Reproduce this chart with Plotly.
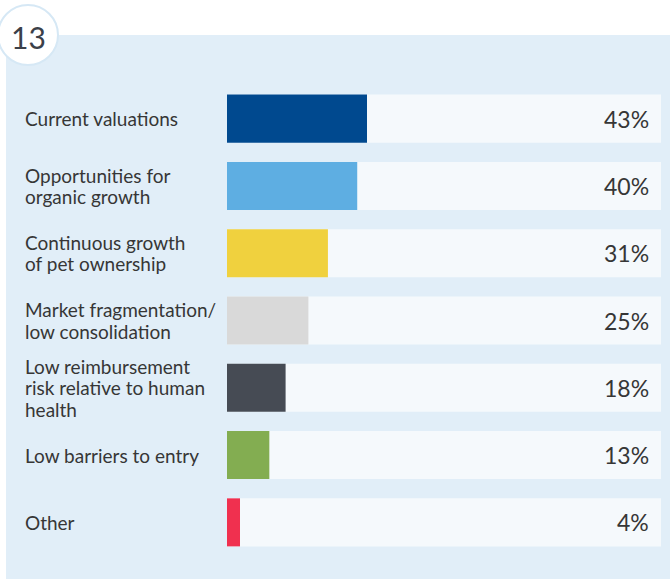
import plotly.graph_objects as go

categories = [
    "Current valuations",
    "Opportunities for<br>organic growth",
    "Continuous growth<br>of pet ownership",
    "Market fragmentation/<br>low consolidation",
    "Low reimbursement<br>risk relative to human<br>health",
    "Low barriers to entry",
    "Other",
]
values = [43, 40, 31, 25, 18, 13, 4]
value_labels = ["43%", "40%", "31%", "25%", "18%", "13%", "4%"]
bar_colors = ["#00498f", "#5eaee2", "#f0d13e", "#d9d9d9", "#464b54", "#83ad51", "#f0304f"]
track_max = 133.3
chart_number = "13"

W, H = 670, 579
ML, MR, MT, MB = 227, 9, 85, 23
PW, PH = W - ML - MR, H - MT - MB
LINE_H = 21.5

def px_x(p):
    return (p - ML) / PW

def px_y(p):
    return (H - MB - p) / PH

fig = go.Figure()
fig.add_trace(go.Bar(
    y=categories, x=[track_max] * len(categories), orientation="h",
    marker=dict(color="#f5f9fc", line=dict(width=0)), hoverinfo="skip", showlegend=False,
))
fig.add_trace(go.Bar(
    y=categories, x=values, orientation="h",
    marker=dict(color=bar_colors, line=dict(width=0)), showlegend=False,
))

annotations = []
for c, lab in zip(categories, value_labels):
    annotations.append(dict(
        x=1, y=c, xref="paper", yref="y", text=lab, showarrow=False,
        xanchor="right", yanchor="middle", xshift=-10,
        font=dict(family="Lato", size=23, color="#363636"),
    ))
    lines = c.split("<br>")
    n = len(lines)
    for i, ln in enumerate(lines):
        annotations.append(dict(
            x=px_x(23), y=c, xref="paper", yref="y", text=ln, showarrow=False,
            xanchor="left", yanchor="middle", align="left",
            yshift=-(i - (n - 1) / 2) * LINE_H,
            font=dict(family="Lato", size=19, color="#363636"),
        ))
annotations.append(dict(
    x=px_x(28), y=px_y(37), xref="paper", yref="paper", text=chart_number, showarrow=False,
    xanchor="center", yanchor="middle",
    font=dict(family="Lato", size=30, color="#3b4049"),
))

shapes = [
    dict(type="rect", xref="paper", yref="paper", layer="below",
         x0=px_x(6), x1=px_x(672), y0=px_y(35), y1=px_y(582),
         fillcolor="#e1eef8", line=dict(width=0)),
    dict(type="circle", xref="paper", yref="paper", layer="above",
         x0=px_x(-2), x1=px_x(58), y0=px_y(65), y1=px_y(5),
         fillcolor="#ffffff", line=dict(color="#d6e8f5", width=2)),
]

fig.update_layout(
    width=W, height=H,
    margin=dict(l=ML, r=MR, t=MT, b=MB, autoexpand=False),
    paper_bgcolor="#ffffff", plot_bgcolor="rgba(0,0,0,0)",
    barmode="overlay", bargap=0.286,
    xaxis=dict(range=[0, track_max], visible=False, fixedrange=True),
    yaxis=dict(autorange="reversed", visible=False, fixedrange=True),
    annotations=annotations, shapes=shapes,
    font=dict(family="Lato"),
)
fig.write_html("out.html", config={"displayModeBar": False},
               post_script="document.body.style.margin='0';")
